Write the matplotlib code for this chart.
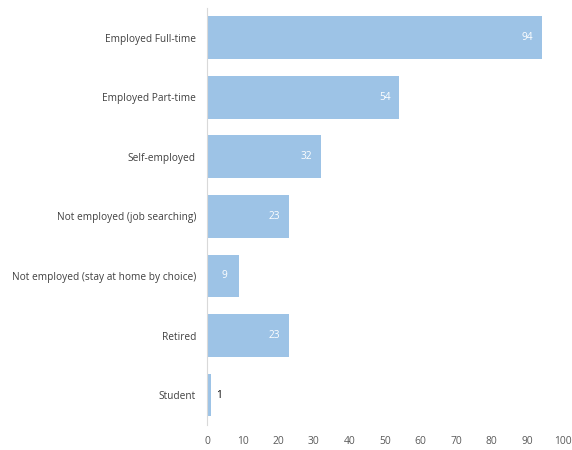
import matplotlib.pyplot as plt

categories = ['Employed Full-time', 'Employed Part-time', 'Self-employed',
              'Not employed (job searching)', 'Not employed (stay at home by choice)',
              'Retired', 'Student']
values = [94, 54, 32, 23, 9, 23, 1]
xticks = list(range(0, 101, 10))

plt.rcParams['font.family'] = ['Open Sans', 'DejaVu Sans']

fig = plt.figure(figsize=(5.72, 4.5), dpi=100)
ax = fig.add_axes([0.362, 0.056, 0.622, 0.926])

pos = list(range(len(categories)))
bars = ax.barh(pos, values, height=0.72, color='#9dc3e6')

for p, v in zip(pos, values):
    if v >= 5:
        ax.text(v - 4, p, str(v), ha='center', va='center', color='white', fontsize=7.3)
    else:
        ax.text(v + 2.5, p, str(v), ha='center', va='center', color='black', fontsize=7.3)

ax.set_yticks(pos)
ax.set_yticklabels(categories, fontsize=7.3, color='#404040')
ax.set_ylim(6.5, -0.5)
ax.set_xlim(0, 100)
ax.set_xticks(xticks)
ax.tick_params(axis='x', labelsize=7.4, labelcolor='#595959', length=0, pad=8)
ax.tick_params(axis='y', length=0, pad=8)

for s in ['top', 'right', 'bottom']:
    ax.spines[s].set_visible(False)
ax.spines['left'].set_color('#d9d9d9')

fig.savefig('out.png')
